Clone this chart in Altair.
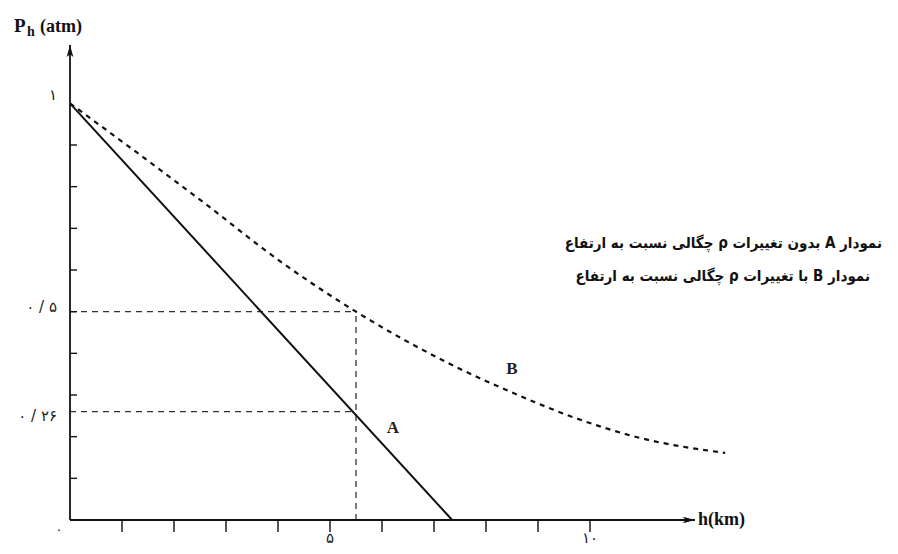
import altair as alt
import pandas as pd

# ---------------- data ----------------
h_B = [0.0, 2.56, 4.04, 5.5, 7.3, 8.65, 9.67, 10.96, 12.6]
p_B = [1.0, 0.763, 0.621, 0.5, 0.375, 0.298, 0.247, 0.197, 0.161]
h_A = [0.0, 7.35]
p_A = [1.0, 0.0]
guide_h = 5.5
guide_p = [0.5, 0.26]
x_tick_vals = [1, 2, 3, 4, 5, 6, 7, 8, 9, 10]
y_tick_vals = [0.1, 0.2, 0.3, 0.4, 0.5, 0.6, 0.7, 0.8, 0.9]
y_label_text = ["۱", "۰ / ۵", "۰ / ۲۶"]
y_label_vals = [1.0, 0.5, 0.26]
x_label_text = ["۵", "۱۰"]
x_label_vals = [5, 10]
legend_text = [
    "نمودار A بدون تغییرات ρ چگالی نسبت به ارتفاع",
    "نمودار B با تغییرات ρ چگالی نسبت به ارتفاع",
]

# ---------------- layout helpers ----------------
PX_X = 52.0      # px per km
PX_Y = 500 / 1.2 # px per atm
X0, Y0 = 70, 520 # page pixel position of the origin
def dx(px):
    return (px - X0) / PX_X
def dy(py):
    return (Y0 - py) / PX_Y

xs = alt.Scale(domain=[0, 15.5], nice=False, zero=False)
ys = alt.Scale(domain=[0, 1.2], nice=False, zero=False)
X = lambda f: alt.X(f, type="quantitative", scale=xs, axis=None)
Y = lambda f: alt.Y(f, type="quantitative", scale=ys, axis=None)
X2 = lambda f: alt.X2(f)
Y2 = lambda f: alt.Y2(f)

dfB = pd.DataFrame({"h": h_B, "p": p_B})
dfA = pd.DataFrame({"h": h_A, "p": p_A})

layers = []

# guides
gh = pd.DataFrame({"h0": [0.0] * len(guide_p), "h1": [guide_h] * len(guide_p), "p": guide_p})
layers.append(alt.Chart(gh).mark_rule(color="#333333", strokeWidth=1.3, strokeDash=[6, 5]).encode(
    x=X("h0"), x2=X2("h1"), y=Y("p")))
gv = pd.DataFrame({"h": [guide_h], "p0": [0.0], "p1": [max(guide_p)]})
layers.append(alt.Chart(gv).mark_rule(color="#333333", strokeWidth=1.3, strokeDash=[6, 5]).encode(
    x=X("h"), y=Y("p0"), y2=Y2("p1")))

# curves
layers.append(alt.Chart(dfB).mark_line(color="#111111", strokeWidth=2.2, strokeDash=[5, 5],
                                       interpolate="monotone").encode(x=X("h"), y=Y("p")))
layers.append(alt.Chart(dfA).mark_line(color="#111111", strokeWidth=2).encode(x=X("h"), y=Y("p")))

# axes lines
y_tip = dy(45)
x_tip = dx(695)
axl = pd.DataFrame({"h0": [0.0], "h1": [x_tip], "p0": [0.0], "p1": [y_tip]})
layers.append(alt.Chart(axl).mark_rule(color="#111111", strokeWidth=1.8).encode(
    x=X("h0"), x2=X2("h1"), y=Y("p0")))
layers.append(alt.Chart(axl).mark_rule(color="#111111", strokeWidth=1.8).encode(
    x=X("h0"), y=Y("p0"), y2=Y2("p1")))

# arrowheads
arr_up = pd.DataFrame({"h": [0.0], "p": [y_tip - 6 / PX_Y]})
layers.append(alt.Chart(arr_up).mark_point(shape="M0,-1L0.55,1L0,0.55L-0.55,1Z", size=150,
                                           filled=True, color="#111111", opacity=1).encode(
    x=X("h"), y=Y("p")))
arr_r = pd.DataFrame({"h": [x_tip - 6 / PX_X], "p": [0.0]})
layers.append(alt.Chart(arr_r).mark_point(shape="M1,0L-1,-0.55L-0.55,0L-1,0.55Z", size=150,
                                          filled=True, color="#111111", opacity=1).encode(
    x=X("h"), y=Y("p")))

# ticks
xt = pd.DataFrame({"h": x_tick_vals})
layers.append(alt.Chart(xt).mark_rule(color="#111111", strokeWidth=1.4).encode(
    x=X("h"), y=alt.value(500), y2=alt.value(512)))
yt = pd.DataFrame({"p": y_tick_vals})
layers.append(alt.Chart(yt).mark_rule(color="#111111", strokeWidth=1.4).encode(
    y=Y("p"), x=alt.value(0), x2=alt.value(7)))

PFONT = "DejaVu Sans"
CFONT = "DejaVu Sans Condensed, DejaVu Sans"
SFONT = "Liberation Serif"

# y labels
y_offsets = [-8, -5, 4]
for t, v, o in zip(y_label_text, y_label_vals, y_offsets):
    d = pd.DataFrame({"h": [dx(57)], "p": [v], "t": [t]})
    layers.append(alt.Chart(d).mark_text(align="right", baseline="middle", dy=o, fontSize=15,
                                         font=PFONT, color="#222222").encode(
        x=X("h"), y=Y("p"), text="t:N"))

# x labels
d = pd.DataFrame({"h": x_label_vals, "t": x_label_text})
layers.append(alt.Chart(d).mark_text(align="center", baseline="alphabetic", fontSize=15, font=PFONT,
                                     color="#222222").encode(
    x=X("h"), y=alt.value(523), text="t:N"))
d0 = pd.DataFrame({"h": [dx(59)], "p": [dy(530)], "t": ["۰"]})
layers.append(alt.Chart(d0).mark_text(align="center", baseline="middle", fontSize=13, font=PFONT,
                                      color="#222222").encode(
    x=X("h"), y=Y("p"), text="t:N"))

# axis titles
dt = pd.DataFrame({"h": [dx(14)], "p": [dy(32)], "t": ["P"]})
layers.append(alt.Chart(dt).mark_text(align="left", baseline="alphabetic", fontSize=19,
                                      fontWeight="bold", font=SFONT, color="#111111").encode(
    x=X("h"), y=Y("p"), text="t:N"))
dt = pd.DataFrame({"h": [dx(27)], "p": [dy(36)], "t": ["h"]})
layers.append(alt.Chart(dt).mark_text(align="left", baseline="alphabetic", fontSize=14,
                                      fontWeight="bold", font=SFONT, color="#111111").encode(
    x=X("h"), y=Y("p"), text="t:N"))
dt = pd.DataFrame({"h": [dx(40)], "p": [dy(32)], "t": ["(atm)"]})
layers.append(alt.Chart(dt).mark_text(align="left", baseline="alphabetic", fontSize=18,
                                      fontWeight="bold", font=SFONT, color="#111111").encode(
    x=X("h"), y=Y("p"), text="t:N"))
dt = pd.DataFrame({"h": [dx(698)], "p": [0.0], "t": ["h(km)"]})
layers.append(alt.Chart(dt).mark_text(align="left", baseline="middle", fontSize=18,
                                      fontWeight="bold", font=SFONT, color="#111111").encode(
    x=X("h"), y=Y("p"), text="t:N"))

# curve labels
dl = pd.DataFrame({"h": [dx(393), dx(512)], "p": [dy(428), dy(369)], "t": ["A", "B"]})
layers.append(alt.Chart(dl).mark_text(align="center", baseline="middle", fontSize=17,
                                      fontWeight="bold", font=SFONT, color="#222222").encode(
    x=X("h"), y=Y("p"), text="t:N"))

# legend text (right-to-left embedding so the mixed-script line keeps its order)
RLE, PDF = "\u202B", "\u202C"
dlg = pd.DataFrame({"h": [dx(882), dx(870)], "p": [dy(243), dy(276)],
                    "t": [RLE + s + PDF for s in legend_text]})
layers.append(alt.Chart(dlg).mark_text(align="right", baseline="middle", fontSize=15,
                                       fontWeight="bold", font=CFONT, color="#111111").encode(
    x=X("h"), y=Y("p"), text="t:N"))

chart = alt.layer(*layers).properties(
    width=806, height=500,
    autosize=alt.AutoSizeParams(type="none"),
    padding={"left": 62, "top": 12, "right": 10, "bottom": 26},
).configure_view(stroke=None)

chart.save("out.html", embed_options={"renderer": "svg", "actions": False})
